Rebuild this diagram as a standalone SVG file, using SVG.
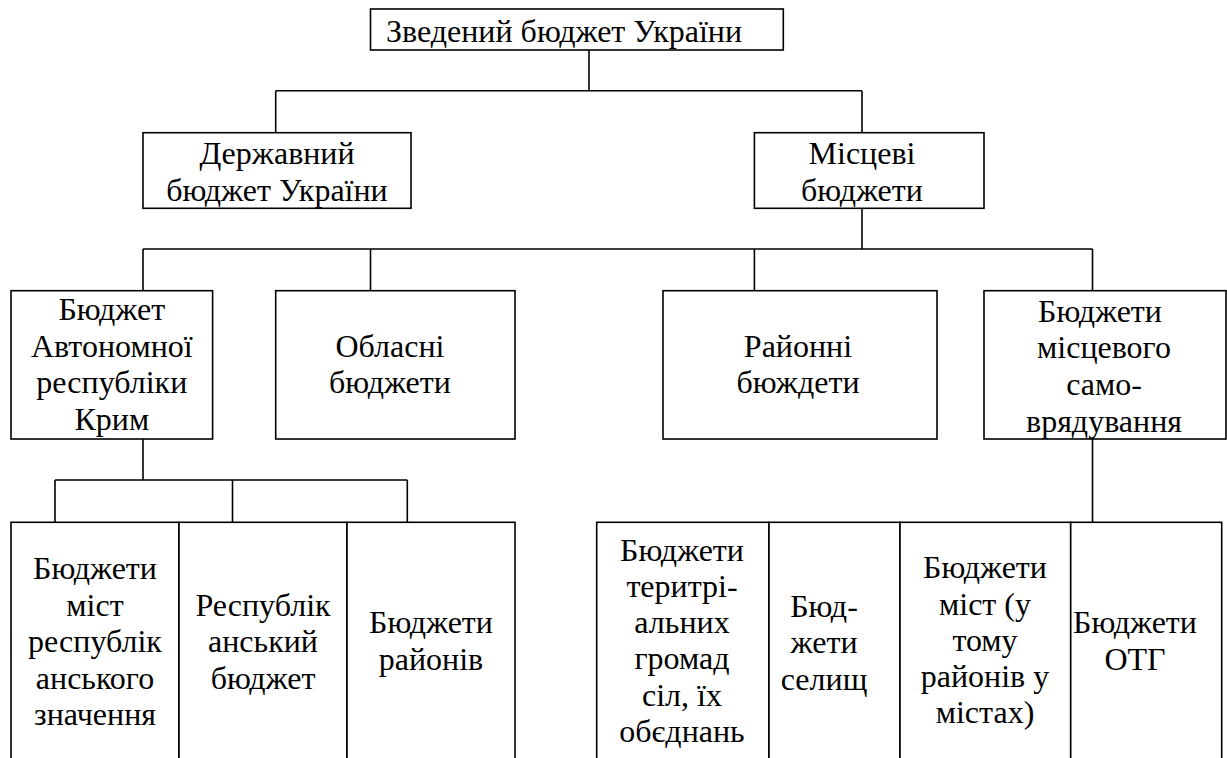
<svg xmlns="http://www.w3.org/2000/svg" width="1227" height="758" viewBox="0 0 1227 758">
<style>
.box{fill:#fff;stroke:#000;stroke-width:1.6}
.ln{fill:none;stroke:#000;stroke-width:1.6}
</style>
<rect width="1227" height="758" fill="#fff"/>
<g id="connectors">
<path class="ln" d="M589,50 V90.7 M275.7,90.7 H862 M275.7,90.7 V132.7 M862,90.7 V132.7"/>
<path class="ln" d="M862,208.3 V249 M143,249 H1092.5 M143,249 V290.7 M370.5,249 V290.7 M754.4,249 V290.7 M1092.5,249 V290.7"/>
<path class="ln" d="M143,439 V480 M55,480 H407.3 M55,480 V522.3 M232.5,480 V522.3 M407.3,480 V522.3"/>
<path class="ln" d="M1092.5,439 V522.3"/>
</g>
<g font-family="'Liberation Serif', 'Times New Roman', Times, serif" font-size="32" fill="#000" text-anchor="middle">
<g id="n-top">
<rect class="box" x="370.5" y="9" width="412.8" height="41"/>
<text x="386" y="41.5" text-anchor="start">Зведений бюджет України</text>
</g>
<g id="n-state">
<rect class="box" x="143" y="132.7" width="268" height="75.6"/>
<text x="277" y="164">Державний</text>
<text x="277" y="200.5">бюджет України</text>
</g>
<g id="n-local">
<rect class="box" x="754.4" y="132.7" width="229.6" height="75.6"/>
<text x="862" y="164">Місцеві</text>
<text x="862" y="200.5">бюджети</text>
</g>
<g id="n-crimea">
<rect class="box" x="11" y="290.7" width="201.6" height="148.3"/>
<text x="111.8" y="320">Бюджет</text>
<text x="111.8" y="356.7">Автономної</text>
<text x="111.8" y="393.3">республіки</text>
<text x="111.8" y="430">Крим</text>
</g>
<g id="n-oblast">
<rect class="box" x="275.7" y="290.7" width="239.3" height="148.3"/>
<text x="390" y="356.7">Обласні</text>
<text x="390" y="393.3">бюджети</text>
</g>
<g id="n-raion">
<rect class="box" x="663" y="290.7" width="274" height="148.3"/>
<text x="798" y="356.7">Районні</text>
<text x="798" y="393.3">бюждети</text>
</g>
<g id="n-selfgov">
<rect class="box" x="984" y="290.7" width="242" height="148.3"/>
<text x="1100" y="321.7">Бюджети</text>
<text x="1104" y="358.3">місцевого</text>
<text x="1104" y="395">само-</text>
<text x="1104" y="431.7">врядування</text>
</g>
<g id="n-cities-rep">
<rect class="box" x="11" y="522.3" width="168" height="250"/>
<text x="95" y="578.5">Бюджети</text>
<text x="95" y="615.5">міст</text>
<text x="95" y="652">республік</text>
<text x="95" y="688.5">анського</text>
<text x="95" y="725">значення</text>
</g>
<g id="n-rep-budget">
<rect class="box" x="179" y="522.3" width="168" height="250"/>
<text x="263" y="615.5">Республік</text>
<text x="263" y="652">анський</text>
<text x="263" y="688.5">бюджет</text>
</g>
<g id="n-districts">
<rect class="box" x="347" y="522.3" width="168" height="250"/>
<text x="431" y="633.3">Бюджети</text>
<text x="431" y="670">районів</text>
</g>
<g id="n-territorial">
<rect class="box" x="596.7" y="522.3" width="172.3" height="250"/>
<text x="682" y="560.5">Бюджети</text>
<text x="682" y="596.8">теритрі-</text>
<text x="682" y="633.1">альних</text>
<text x="682" y="669.4">громад</text>
<text x="682" y="705.7">сіл, їх</text>
<text x="682" y="742">обєднань</text>
</g>
<g id="n-settlements">
<rect class="box" x="769" y="522.3" width="131" height="250"/>
<text x="824" y="616.7">Бюд-</text>
<text x="824" y="653.3">жети</text>
<text x="824" y="690">селищ</text>
</g>
<g id="n-cities">
<rect class="box" x="900" y="522.3" width="170.7" height="250"/>
<text x="985" y="578.3">Бюджети</text>
<text x="985" y="615">міст (у</text>
<text x="985" y="650.5">тому</text>
<text x="985" y="686.7">районів у</text>
<text x="985" y="723.3">містах)</text>
</g>
<g id="n-otg">
<rect class="box" x="1070.7" y="522.3" width="151" height="250"/>
<text x="1135" y="633.3">Бюджети</text>
<text x="1135" y="669.5">ОТГ</text>
</g>
</g>
</svg>
